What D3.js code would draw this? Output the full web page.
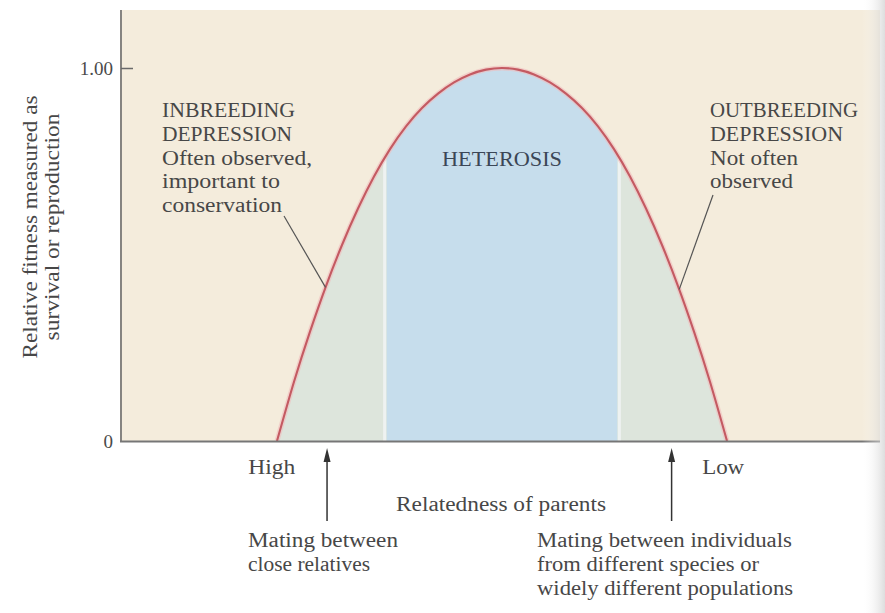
<!DOCTYPE html>
<html>
<head>
<meta charset="utf-8">
<script src="https://cdn.jsdelivr.net/npm/d3@7"></script>
<style>
  html, body { margin: 0; padding: 0; background: #ffffff; }
  svg { display: block; }
  text { font-family: "Liberation Serif", "DejaVu Serif", serif; }
</style>
</head>
<body>
<div id="chart"></div>
<script>
// ---------------- data ----------------
// relatedness axis (arbitrary units: 0 = very high relatedness, 100 = very low)
const relatedness = [20.55, 22.775, 24.869, 26.963, 29.058, 31.152, 33.246, 35.34, 37.435, 39.529, 41.623, 43.717, 45.812, 47.906, 50,
                     52.094, 54.188, 56.283, 58.377, 60.471, 62.565, 64.66, 66.754, 68.848, 70.942, 73.037, 75.131, 77.225, 79.45];
// relative fitness at each relatedness value
const fitness     = [0, 0.1587, 0.2933, 0.4155, 0.5255, 0.6233, 0.7091, 0.7826, 0.8437, 0.8928, 0.9314, 0.9614, 0.9828, 0.9957, 1.0,
                     0.9957, 0.9828, 0.9614, 0.9314, 0.8928, 0.8437, 0.7826, 0.7091, 0.6233, 0.5255, 0.4155, 0.2933, 0.1587, 0];
// heterosis zone on the relatedness axis
const heterosisZone = [34.9, 65.1];
// y ticks
const yTickValues = [0, 1];
const yTickLabels = ["0", "1.00"];
// x extremes
const xEndLabels = ["High", "Low"];
const xEndValues = [16.8, 76.2];
// arrows (relatedness values)
const arrowValues = [27.1, 72.2];
// annotation texts
const inbreedingText = ["INBREEDING", "DEPRESSION", "Often observed,", "important to", "conservation"];
const outbreedingText = ["OUTBREEDING", "DEPRESSION", "Not often", "observed"];
const leftNote = ["Mating between", "close relatives"];
const rightNote = ["Mating between individuals", "from different species or", "widely different populations"];
const yTitle = ["Relative fitness measured as", "survival or reproduction"];
const xTitle = "Relatedness of parents";
const centerLabel = "HETEROSIS";
// leader-line targets on the curve (relatedness values)
const leaderTargets = [26.9, 73.2];

// ---------------- layout ----------------
const W = 885, H = 613;
const plotLeft = 120, plotRight = 880, plotTop = 10, baseY = 441;

const x = d3.scaleLinear().domain([0, 100]).range([120, 884]);
const y = d3.scaleLinear().domain([0, 1]).range([baseY, 68]);

const svg = d3.select("#chart").append("svg").attr("width", W).attr("height", H);

const defs = svg.append("defs");
const grad = defs.append("linearGradient").attr("id", "edge").attr("x1", "0").attr("x2", "1");
grad.append("stop").attr("offset", "0").attr("stop-color", "#ffffff").attr("stop-opacity", 0);
grad.append("stop").attr("offset", "1").attr("stop-color", "#cfcfcf").attr("stop-opacity", 1);

// plot background
svg.append("rect").attr("x", plotLeft).attr("y", plotTop)
  .attr("width", plotRight - plotLeft).attr("height", baseY - plotTop)
  .attr("fill", "#f4ecdc");

const pts = relatedness.map((r, i) => ({ r, f: fitness[i] }));

const curveType = d3.curveNatural;
const area = d3.area().curve(curveType)
  .x(d => x(d.r)).y0(y(0)).y1(d => y(d.f));
const line = d3.line().curve(curveType)
  .x(d => x(d.r)).y(d => y(d.f));

defs.append("clipPath").attr("id", "under").append("path").attr("d", area(pts));

const under = svg.append("g").attr("clip-path", "url(#under)");
under.append("rect").attr("x", x(relatedness[0]) - 2).attr("y", plotTop)
  .attr("width", x(relatedness[relatedness.length - 1]) - x(relatedness[0]) + 4)
  .attr("height", baseY - plotTop).attr("fill", "#dde5dc");
under.append("rect").attr("x", x(heterosisZone[0])).attr("y", plotTop)
  .attr("width", x(heterosisZone[1]) - x(heterosisZone[0]))
  .attr("height", baseY - plotTop).attr("fill", "#c6ddec");
// pale gaps at the zone edges
under.append("rect").attr("x", x(heterosisZone[0]) - 3.5).attr("y", plotTop)
  .attr("width", 3).attr("height", baseY - plotTop).attr("fill", "#eef2f1");
under.append("rect").attr("x", x(heterosisZone[1]) + 0.5).attr("y", plotTop)
  .attr("width", 3).attr("height", baseY - plotTop).attr("fill", "#eef2f1");

// curve with soft halo
svg.append("path").attr("d", line(pts)).attr("fill", "none")
  .attr("stroke", "#f0bcbc").attr("stroke-width", 5).attr("opacity", 0.6);
const curvePath = svg.append("path").attr("d", line(pts)).attr("fill", "none")
  .attr("stroke", "#c45a62").attr("stroke-width", 2.1);

function yOnCurve(rv) {
  const node = curvePath.node();
  const L = node.getTotalLength();
  const tx = x(rv);
  let lo = 0, hi = L;
  for (let k = 0; k < 40; k++) {
    const mid = (lo + hi) / 2;
    if (node.getPointAtLength(mid).x < tx) lo = mid; else hi = mid;
  }
  return node.getPointAtLength(lo).y;
}

// axes
const yAxis = d3.axisLeft(y).tickValues(yTickValues)
  .tickFormat((d, i) => yTickLabels[i]).tickSizeInner(-12).tickSizeOuter(0).tickPadding(8);
const gy = svg.append("g").attr("transform", `translate(${plotLeft + 1},0)`).call(yAxis);
gy.select(".domain").remove();
gy.selectAll(".tick line").attr("stroke", "#6a6a6a").attr("stroke-width", 1.5)
  .filter(d => d === 0).remove();
gy.selectAll(".tick text").attr("font-family", "Liberation Serif, serif")
  .attr("font-size", 19).attr("fill", "#4a4a4a");
svg.append("line").attr("x1", plotLeft + 1).attr("x2", plotLeft + 1)
  .attr("y1", plotTop).attr("y2", baseY).attr("stroke", "#6a6a6a").attr("stroke-width", 1.6);

const xAxis = d3.axisBottom(x).tickValues([]).tickSizeOuter(0);
const gx = svg.append("g").attr("transform", `translate(0,${baseY})`).call(xAxis);
gx.select(".domain").attr("d", `M${plotLeft},0.5H${plotRight}`)
  .attr("stroke", "#767676").attr("stroke-width", 2.2);

// text helper
function txt(g, str, xx, yy, len, opts = {}) {
  const t = g.append("text").attr("x", xx).attr("y", yy).text(str)
    .attr("font-size", opts.size || 20).attr("fill", opts.fill || "#474747");
  if (len) t.attr("textLength", len).attr("lengthAdjust", "spacingAndGlyphs");
  if (opts.anchor) t.attr("text-anchor", opts.anchor);
  return t;
}

const ann = svg.append("g");
const lineGap = 23.8;
const inbLens = [133, 130, 150, 118, 120];
inbreedingText.forEach((s, i) => txt(ann, s, 162, 117 + i * lineGap, inbLens[i]));
const outLens = [148, 133, 88, 83];
outbreedingText.forEach((s, i) => txt(ann, s, 710, 117 + i * lineGap, outLens[i]));
txt(ann, centerLabel, 442, 166, 120, { fill: "#3b4656" });

// leader lines
const leaderStarts = [[284, 216], [713, 195]];
leaderTargets.forEach((rv, i) => {
  ann.append("line").attr("x1", leaderStarts[i][0]).attr("y1", leaderStarts[i][1])
    .attr("x2", x(rv)).attr("y2", yOnCurve(rv))
    .attr("stroke", "#555").attr("stroke-width", 1.2);
});

// x end labels
txt(ann, xEndLabels[0], x(xEndValues[0]), 474, 47);
txt(ann, xEndLabels[1], x(xEndValues[1]), 474, 42);
txt(ann, xTitle, 396, 511, 210);

// arrows
arrowValues.forEach(v => {
  const ax = x(v);
  ann.append("line").attr("x1", ax).attr("x2", ax).attr("y1", 458).attr("y2", 521)
    .attr("stroke", "#333").attr("stroke-width", 1.5);
  ann.append("path").attr("d", `M${ax},448 L${ax - 3.5},462 L${ax + 3.5},462 Z`).attr("fill", "#333");
});

const lnLens = [150, 122];
leftNote.forEach((s, i) => txt(ann, s, 248, 547 + i * 24, lnLens[i]));
const rnLens = [255, 222, 256];
rightNote.forEach((s, i) => txt(ann, s, 537, 547 + i * 24, rnLens[i]));

// y title (rotated)
const yt = svg.append("g").attr("transform", "translate(0,227) rotate(-90)");
txt(yt, yTitle[0], 0, 37, 263, { anchor: "middle" });
txt(yt, yTitle[1], 0, 59, 227, { anchor: "middle" });

// scan edge shading on the right
svg.append("rect").attr("x", 862).attr("y", 0).attr("width", 23).attr("height", H)
  .attr("fill", "url(#edge)").attr("opacity", 0.7);
</script>
</body>
</html>
